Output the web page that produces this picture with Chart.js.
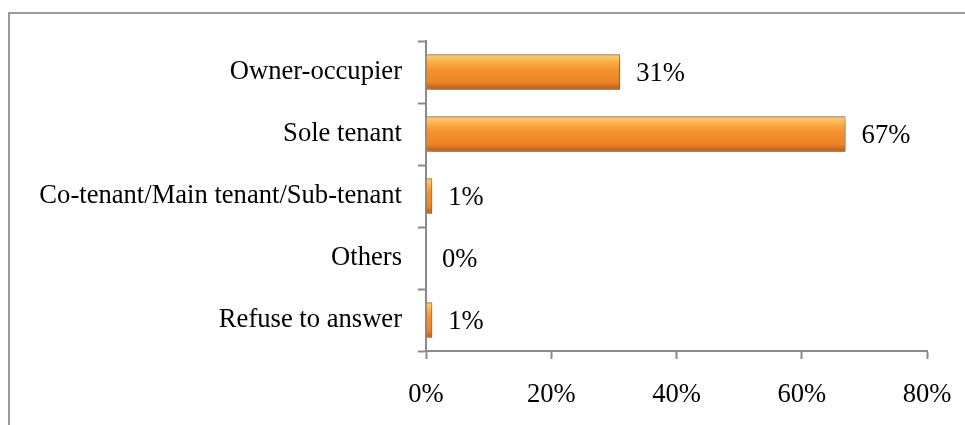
<!DOCTYPE html>
<html>
<head>
<meta charset="utf-8">
<script src="https://cdn.jsdelivr.net/npm/chart.js@4/dist/chart.umd.min.js"></script>
<style>
  html, body { margin: 0; padding: 0; background: #fff; }
  #wrap { position: relative; width: 965px; height: 425px; overflow: hidden; }
  #frame {
    position: absolute; left: 8px; top: 12px; width: 1000px; height: 500px;
    border-top: 2px solid #9a9a9a; border-left: 2px solid #9a9a9a;
  }
  #chart { position: absolute; left: 0; top: 0; }
</style>
</head>
<body>
<div id="wrap">
  <div id="frame"></div>
  <canvas id="chart" width="965" height="425"></canvas>
</div>
<script>
const categories = [
  "Owner-occupier",
  "Sole tenant",
  "Co-tenant/Main tenant/Sub-tenant",
  "Others",
  "Refuse to answer",
];
const shares = [31, 67, 1, 0, 1];
const xTicks = [0, 20, 40, 60, 80];

const FONT = "'Liberation Serif', 'Times New Roman', serif";
const FONT_SIZE = 26.6;
const CAT_PCT = 0.57;

// vertical gradient per bar, built from the category scale
function barFill(context) {
  const chart = context.chart;
  const yScale = chart.scales.y;
  if (!yScale || context.dataIndex === undefined) return "#f48d2c";
  const center = yScale.getPixelForValue(context.dataIndex);
  const half = (yScale.height / categories.length) * CAT_PCT / 2;
  if (!isFinite(center) || !isFinite(half) || half <= 0) return "#f48d2c";
  const g = chart.ctx.createLinearGradient(0, center - half, 0, center + half);
  g.addColorStop(0, "#ec8630");
  g.addColorStop(0.07, "#fdcc68");
  g.addColorStop(0.2, "#fbb04a");
  g.addColorStop(0.42, "#f5922e");
  g.addColorStop(0.78, "#ec8528");
  g.addColorStop(0.92, "#c96c22");
  g.addColorStop(1, "#96551e");
  return g;
}

const barShadow = {
  id: "barShadow",
  beforeDatasetsDraw(chart) {
    const ctx = chart.ctx;
    ctx.save();
    ctx.shadowColor = "rgba(0,0,0,0.3)";
    ctx.shadowBlur = 5;
    ctx.shadowOffsetX = 2;
    ctx.shadowOffsetY = 3;
  },
  afterDatasetsDraw(chart) {
    chart.ctx.restore();
  },
};

const valueLabels = {
  id: "valueLabels",
  afterDatasetsDraw(chart) {
    const ctx = chart.ctx;
    const meta = chart.getDatasetMeta(0);
    ctx.save();
    ctx.font = FONT_SIZE + "px " + FONT;
    ctx.fillStyle = "#000";
    ctx.textAlign = "left";
    ctx.textBaseline = "middle";
    meta.data.forEach((bar, i) => {
      ctx.fillText(shares[i] + "%", bar.x + 16, bar.y + 2);
    });
    ctx.restore();
  },
};

new Chart(document.getElementById("chart"), {
  type: "bar",
  data: {
    labels: categories,
    datasets: [
      {
        data: shares,
        backgroundColor: barFill,
        borderColor: "#a95f1c",
        borderWidth: 1,
        borderSkipped: "left",
        categoryPercentage: CAT_PCT,
        barPercentage: 1,
      },
    ],
  },
  options: {
    indexAxis: "y",
    responsive: false,
    animation: false,
    layout: { padding: { top: 41, right: 38, bottom: 0, left: 0 } },
    plugins: { legend: { display: false }, tooltip: { enabled: false } },
    scales: {
      x: {
        min: 0,
        max: 80,
        afterBuildTicks: (scale) => {
          scale.ticks = xTicks.map((v) => ({ value: v }));
        },
        afterFit: (scale) => {
          scale.height = 74;
          scale.paddingLeft = 0;
          scale.paddingRight = 0;
        },
        grid: {
          drawOnChartArea: false,
          drawTicks: true,
          tickLength: 8,
          tickColor: "#8a8a8a",
          tickWidth: 2,
        },
        border: { color: "#8a8a8a", width: 2 },
        ticks: {
          color: "#000",
          padding: 20,
          font: { family: FONT, size: FONT_SIZE },
          callback: (v) => v + "%",
        },
      },
      y: {
        afterFit: (scale) => { scale.width = 426; },
        grid: {
          drawOnChartArea: false,
          drawTicks: true,
          offset: true,
          tickLength: 8,
          tickColor: "#8a8a8a",
          tickWidth: 2,
        },
        border: { color: "#8a8a8a", width: 2 },
        ticks: {
          color: "#000",
          padding: 16,
          font: { family: FONT, size: FONT_SIZE },
        },
      },
    },
  },
  plugins: [barShadow, valueLabels],
});
</script>
</body>
</html>
